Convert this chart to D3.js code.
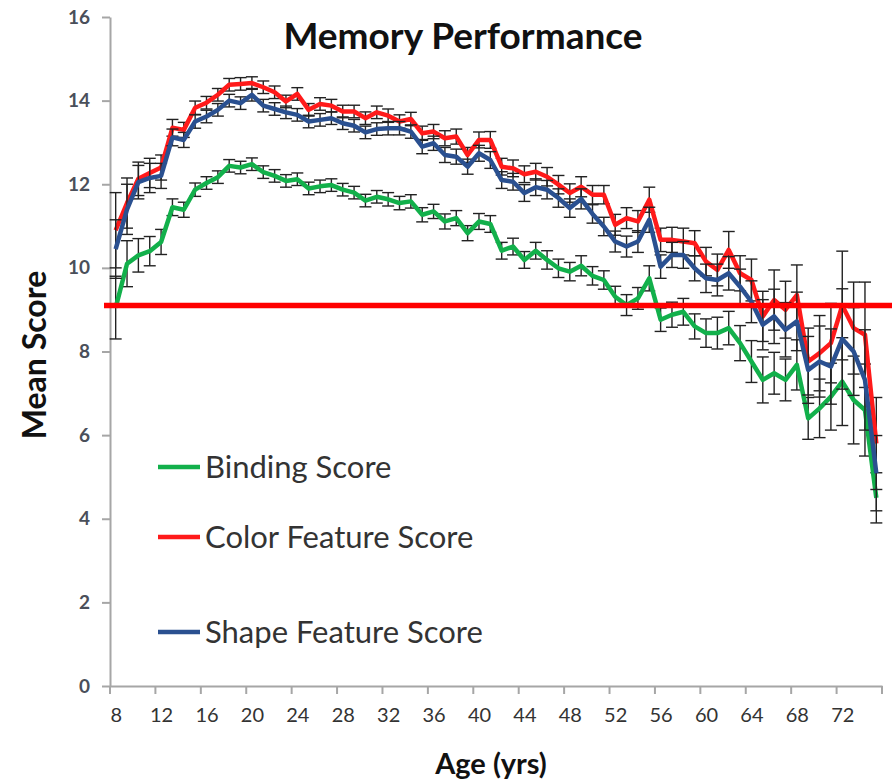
<!DOCTYPE html>
<html lang="en">
<head>
	<meta charset="UTF-8">
	<title>Memory Performance</title>
	<style>
		body { margin: 0; background: #fff; }
		svg text { font-family: Lato, "Open Sans", sans-serif; }
		.axis path, .axis line { stroke: #a6a6a6; stroke-width: 2; }
		.y-axis text { fill: #4a4f5a; font-size: 19px; font-weight: bold; }
		.x-axis text { fill: #333; font-size: 20px; }
		.err line { stroke: #222; stroke-width: 1.4; }
	</style>
	<script src="https://cdn.jsdelivr.net/npm/d3@7"></script>
</head>
<body>
<script>
	// ages 8..75, one point per year
	var ages = d3.range(8, 76);
	var ageLabels = [8, 12, 16, 20, 24, 28, 32, 36, 40, 44, 48, 52, 56, 60, 64, 68, 72];
	var yTicks = [0, 2, 4, 6, 8, 10, 12, 14, 16];

	var bindingScore = [
		9.05, 10.1, 10.3, 10.4, 10.62,
		11.45, 11.39, 11.87, 12.03, 12.17, 12.44, 12.4, 12.48, 12.29, 12.2,
		12.08, 12.12, 11.9, 11.95, 11.98, 11.87, 11.8, 11.61, 11.7, 11.64,
		11.55, 11.59, 11.27, 11.35, 11.11, 11.19, 10.83, 11.11, 11.05, 10.41,
		10.51, 10.19, 10.41, 10.19, 9.99, 9.91, 10.05, 9.81, 9.71, 9.31,
		9.11, 9.27, 9.75, 8.76, 8.88, 8.95, 8.6, 8.44, 8.44, 8.56,
		8.2, 7.76, 7.32, 7.48, 7.32, 7.68, 6.4, 6.64, 6.92, 7.28,
		6.84, 6.6, 4.5
	];
	var colorScore = [
		10.9, 11.55, 12.13, 12.27, 12.4,
		13.35, 13.3, 13.83, 13.95, 14.14, 14.38, 14.4, 14.42, 14.32, 14.2,
		13.98, 14.16, 13.78, 13.92, 13.88, 13.74, 13.74, 13.58, 13.72, 13.64,
		13.5, 13.56, 13.22, 13.26, 13.1, 13.14, 12.7, 13.06, 13.06, 12.42,
		12.38, 12.24, 12.3, 12.18, 11.99, 11.79, 11.94, 11.75, 11.75, 11.03,
		11.19, 11.11, 11.63, 10.67, 10.67, 10.63, 10.59, 10.15, 9.95, 10.43,
		9.87, 9.71, 8.84, 9.23, 9.0, 9.35, 7.76, 7.96, 8.2, 9.1,
		8.56, 8.4, 5.8
	];
	var shapeScore = [
		10.45, 11.4, 12.05, 12.15, 12.2,
		13.12, 13.06, 13.5, 13.62, 13.78, 14.0, 13.94, 14.14, 13.88, 13.8,
		13.72, 13.66, 13.5, 13.54, 13.58, 13.46, 13.4, 13.24, 13.32, 13.34,
		13.34, 13.26, 12.9, 12.98, 12.7, 12.66, 12.42, 12.74, 12.58, 12.1,
		12.06, 11.79, 11.93, 11.87, 11.67, 11.43, 11.65, 11.29, 10.99, 10.63,
		10.51, 10.63, 11.15, 10.03, 10.31, 10.31, 9.99, 9.75, 9.71, 9.87,
		9.55, 9.19, 8.64, 8.84, 8.52, 8.72, 7.56, 7.76, 7.64, 8.3,
		8.0, 7.32, 5.09
	];

	// standard error, same age order
	var bindingErr = [
		0.75, 0.55, 0.4, 0.35, 0.3,
		0.2, 0.18, 0.16, 0.15, 0.15, 0.15, 0.15, 0.15, 0.15, 0.15,
		0.15, 0.15, 0.15, 0.15, 0.15, 0.15, 0.15, 0.15, 0.15, 0.16,
		0.16, 0.16, 0.17, 0.17, 0.18, 0.18, 0.18, 0.19, 0.2, 0.2,
		0.2, 0.2, 0.2, 0.22, 0.22, 0.22, 0.24, 0.22, 0.22, 0.25,
		0.25, 0.26, 0.3, 0.28, 0.3, 0.32, 0.3, 0.34, 0.38, 0.4,
		0.42, 0.5, 0.55, 0.5, 0.5, 0.6, 0.5, 0.7, 0.8, 1.05,
		1.05, 1.1, 0.6
	];
	var colorErr = [
		0.9, 0.6, 0.4, 0.35, 0.3,
		0.2, 0.18, 0.16, 0.15, 0.15, 0.15, 0.15, 0.15, 0.15, 0.15,
		0.15, 0.15, 0.15, 0.15, 0.15, 0.15, 0.15, 0.15, 0.15, 0.16,
		0.16, 0.16, 0.17, 0.17, 0.18, 0.18, 0.18, 0.19, 0.2, 0.2,
		0.2, 0.2, 0.2, 0.22, 0.22, 0.22, 0.24, 0.22, 0.22, 0.25,
		0.25, 0.26, 0.3, 0.28, 0.3, 0.32, 0.3, 0.34, 0.38, 0.44,
		0.42, 0.5, 0.6, 0.72, 0.68, 0.72, 0.8, 0.9, 0.95, 1.3,
		1.1, 1.26, 1.1
	];
	var shapeErr = [
		0.7, 0.6, 0.4, 0.35, 0.3,
		0.2, 0.18, 0.16, 0.15, 0.15, 0.15, 0.15, 0.15, 0.15, 0.15,
		0.15, 0.15, 0.15, 0.15, 0.15, 0.15, 0.15, 0.15, 0.15, 0.16,
		0.16, 0.16, 0.17, 0.17, 0.18, 0.18, 0.18, 0.19, 0.2, 0.2,
		0.2, 0.2, 0.2, 0.22, 0.22, 0.22, 0.24, 0.22, 0.22, 0.25,
		0.25, 0.26, 0.3, 0.28, 0.3, 0.32, 0.3, 0.34, 0.38, 0.4,
		0.42, 0.5, 0.6, 0.65, 0.65, 0.7, 0.8, 0.85, 0.9, 1.2,
		1.05, 1.2, 0.9
	];

	var refLine = 9.1;

	var series = [
		{name: "Binding Score", color: "#12b04b", values: bindingScore, err: bindingErr, legendY: 467},
		{name: "Color Feature Score", color: "#ff1a1a", values: colorScore, err: colorErr, legendY: 537},
		{name: "Shape Feature Score", color: "#2a5090", values: shapeScore, err: shapeErr, legendY: 632}
	];

	var width = 892, height = 782;
	var svg = d3.select("body").append("svg")
		.attr("width", width)
		.attr("height", height);

	var x = d3.scaleLinear().domain([7.5, 75.5]).range([110, 882]);
	var y = d3.scaleLinear().domain([0, 16]).range([686, 17]);

	// axes
	svg.append("g")
		.attr("class", "axis y-axis")
		.attr("transform", "translate(110,0)")
		.call(d3.axisLeft(y).tickValues(yTicks).tickSize(8).tickPadding(12).tickSizeOuter(0));

	var xAxis = svg.append("g")
		.attr("class", "axis x-axis")
		.attr("transform", "translate(0,686)")
		.call(d3.axisBottom(x).tickValues(ageLabels).tickSize(0).tickPadding(22).tickSizeOuter(0));

	// category tick marks sit between ages
	xAxis.selectAll(".cat-tick")
		.data(d3.range(7.5, 76, 4))
		.enter().append("line")
		.attr("class", "cat-tick")
		.attr("x1", function(d) { return x(d); })
		.attr("x2", function(d) { return x(d); })
		.attr("y1", 0)
		.attr("y2", 8);

	var line = d3.line()
		.x(function(d, i) { return x(ages[i]); })
		.y(function(d) { return y(d); });

	series.forEach(function(s) {
		var g = svg.append("g").attr("class", "err");
		var bars = g.selectAll("g")
			.data(s.values)
			.enter().append("g");
		bars.append("line")
			.attr("x1", function(d, i) { return x(ages[i]); })
			.attr("x2", function(d, i) { return x(ages[i]); })
			.attr("y1", function(d, i) { return y(d + s.err[i]); })
			.attr("y2", function(d, i) { return y(d - s.err[i]); });
		[1, -1].forEach(function(sign) {
			bars.append("line")
				.attr("x1", function(d, i) { return x(ages[i]) - 6; })
				.attr("x2", function(d, i) { return x(ages[i]) + 6; })
				.attr("y1", function(d, i) { return y(d + sign * s.err[i]); })
				.attr("y2", function(d, i) { return y(d + sign * s.err[i]); });
		});

		svg.append("path")
			.datum(s.values)
			.attr("fill", "none")
			.attr("stroke", s.color)
			.attr("stroke-width", 4.5)
			.attr("stroke-linejoin", "round")
			.attr("d", line);
	});

	// legend
	var legend = svg.selectAll(".legend")
		.data(series)
		.enter().append("g")
		.attr("class", "legend")
		.attr("transform", function(d) { return "translate(158," + d.legendY + ")"; });
	legend.append("line")
		.attr("x1", 0).attr("x2", 42)
		.attr("stroke", function(d) { return d.color; })
		.attr("stroke-width", 4.5);
	legend.append("text")
		.attr("x", 47)
		.attr("dy", "0.35em")
		.attr("fill", "#333")
		.style("font-size", "31px")
		.text(function(d) { return d.name; });

	// reference line across the chart
	svg.append("line")
		.attr("x1", 104).attr("x2", width)
		.attr("y1", y(refLine)).attr("y2", y(refLine))
		.attr("stroke", "#ff0000")
		.attr("stroke-width", 5.5);

	svg.append("text")
		.attr("x", 463).attr("y", 49)
		.attr("text-anchor", "middle")
		.attr("fill", "#111")
		.style("font-size", "37px")
		.style("font-weight", "bold")
		.text("Memory Performance");

	svg.append("text")
		.attr("transform", "translate(35,355) rotate(-90)")
		.attr("dy", "0.35em")
		.attr("text-anchor", "middle")
		.attr("fill", "#111")
		.style("font-size", "32px")
		.style("font-weight", "bold")
		.text("Mean Score");

	svg.append("text")
		.attr("x", 491).attr("y", 774)
		.attr("text-anchor", "middle")
		.attr("fill", "#111")
		.style("font-size", "29px")
		.style("font-weight", "bold")
		.text("Age (yrs)");
</script>
</body>
</html>
